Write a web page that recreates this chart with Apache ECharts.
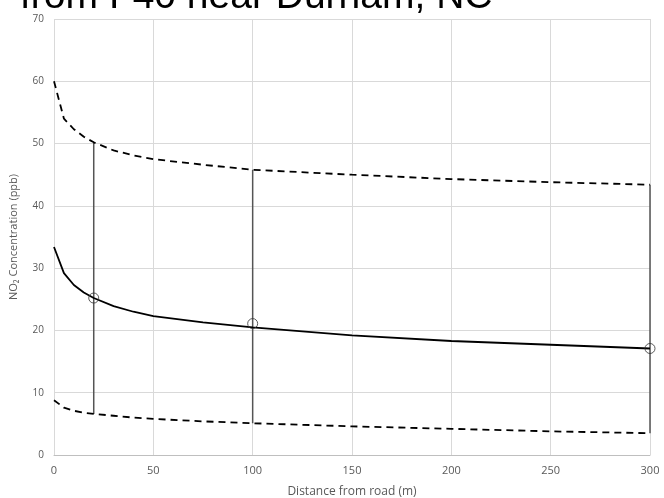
<!DOCTYPE html>
<html><head><meta charset="utf-8">
<script src="https://cdn.jsdelivr.net/npm/echarts@6/dist/echarts.min.js"></script>
<style>html,body{margin:0;padding:0;background:#fff}#c{width:664px;height:498px}</style>
</head><body><div id="c"></div>
<script>
var titleText = "from I-40 near Durham, NC";
var xTicks = [0, 50, 100, 150, 200, 250, 300];
var yTicks = [0, 10, 20, 30, 40, 50, 60, 70];
var distance = [0, 5, 10, 15, 20, 30, 40, 50, 75, 100, 150, 200, 250, 300];
var meanModel = [33.4, 29.2, 27.3, 26.1, 25.2, 23.9, 23.0, 22.3, 21.3, 20.5, 19.2, 18.3, 17.7, 17.1];
var upperModel = [60.0, 54.0, 52.3, 51.1, 50.2, 48.9, 48.1, 47.5, 46.6, 45.8, 45.0, 44.3, 43.8, 43.4];
var lowerModel = [8.8, 7.6, 7.1, 6.8, 6.6, 6.3, 6.0, 5.8, 5.4, 5.1, 4.6, 4.2, 3.8, 3.5];
var obsX = [20, 100, 300];
var obsMean = [25.2, 21.1, 17.1];
var obsLow = [6.6, 5.1, 3.5];
var obsHigh = [50.2, 45.8, 43.4];

function pairs(xs, ys){ return xs.map(function(x,i){ return [x, ys[i]]; }); }

var series = [];
obsX.forEach(function(x, i){
  series.push({type:'line', data:[[x, obsLow[i]],[x, obsHigh[i]]], symbol:'none', silent:true,
    lineStyle:{color:'#555555', width:1.5}, z:1});
});
series.push({type:'line', data:pairs(distance, upperModel), symbol:'none',
  lineStyle:{color:'#000', width:1.8, type:[7,5]}, z:2});
series.push({type:'line', data:pairs(distance, lowerModel), symbol:'none',
  lineStyle:{color:'#000', width:1.8, type:[7,5]}, z:2});
series.push({type:'line', data:pairs(distance, meanModel), symbol:'none',
  lineStyle:{color:'#000', width:1.8}, z:3});
series.push({type:'scatter', data:pairs(obsX, obsMean), symbol:'circle', symbolSize:10,
  itemStyle:{color:'rgba(0,0,0,0)', borderColor:'#333', borderWidth:1}, z:4});

var chart = echarts.init(document.getElementById('c'), null, {renderer:'canvas'});
chart.setOption({
  animation:false,
  backgroundColor:'#fff',
  grid:{left:54, right:14, top:19, bottom:43, containLabel:false, outerBoundsMode:'none'},
  graphic:[{type:'text', left:20, top:-22,
    style:{text:titleText, font:'39px "Liberation Sans", Arial, sans-serif', fill:'#000'}}],
  xAxis:{type:'value', min:0, max:300, interval:50,
    axisLine:{show:true, lineStyle:{color:'#bfbfbf'}}, axisTick:{show:false},
    splitLine:{show:true, lineStyle:{color:'#d9d9d9'}},
    axisLabel:{color:'#595959', fontSize:11, fontFamily:'"Open Sans", sans-serif', margin:10},
    name:'Distance from road (m)', nameLocation:'middle', nameGap:31,
    nameTextStyle:{color:'#595959', fontSize:12, fontFamily:'"Open Sans", sans-serif'}},
  yAxis:{type:'value', min:0, max:70, interval:10,
    axisLine:{show:false}, axisTick:{show:false},
    splitLine:{show:true, lineStyle:{color:'#d9d9d9'}},
    axisLabel:{color:'#595959', fontSize:10, fontFamily:'"Open Sans", sans-serif', margin:10},
    name:'NO\u2082 Concentration (ppb)', nameLocation:'middle', nameGap:35,
    nameTextStyle:{color:'#595959', fontSize:11, fontFamily:'"Open Sans", sans-serif'}},
  series:series
});
</script></body></html>
